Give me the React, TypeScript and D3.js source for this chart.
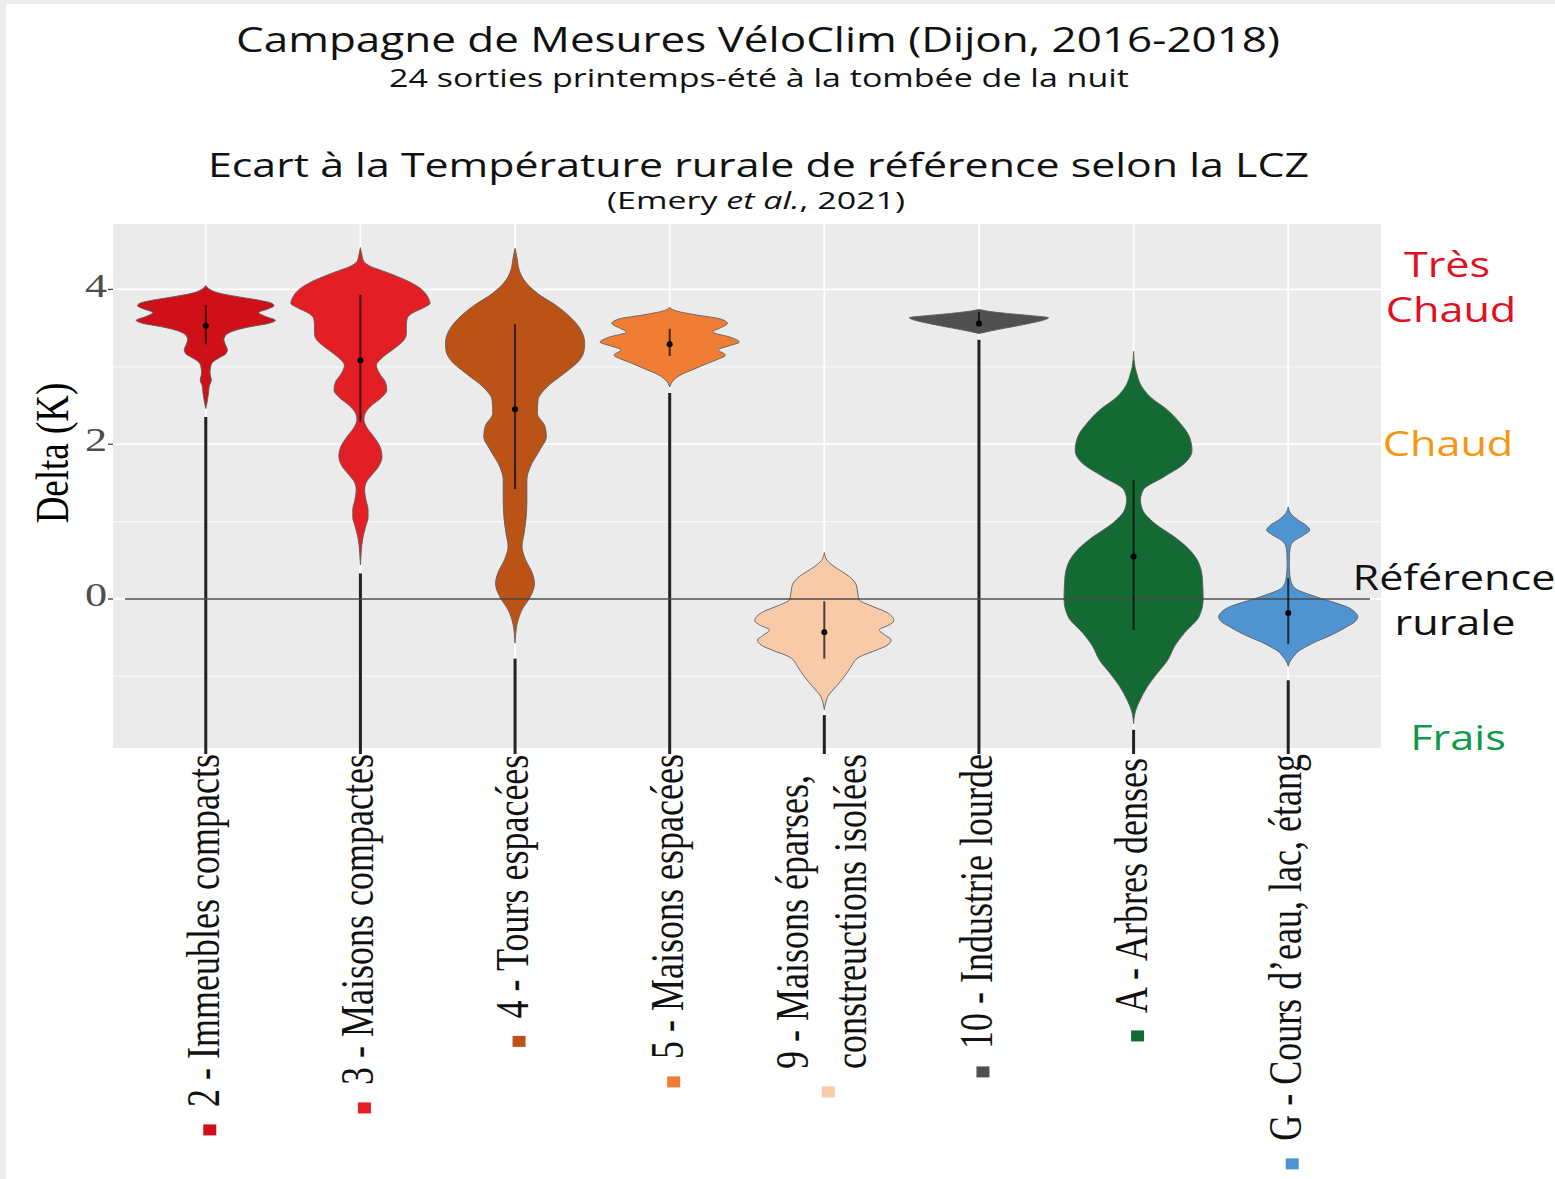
import React, { useMemo } from "react";
import * as d3 from "d3";

// Local Climate Zones (LCZ) shown on the x axis
const categories = [
  "2 - Immeubles compacts",
  "3 - Maisons compactes",
  "4 - Tours espacées",
  "5 - Maisons espacées",
  "9 - Maisons éparses,\nconstreuctions isolées",
  "10 - Industrie lourde",
  "A - Arbres denses",
  "G - Cours d’eau, lac, étang",
];

const fillColors = ["#CF1018", "#E31F25", "#BB5216", "#F07D34", "#F9CAA7", "#505050", "#136A33", "#4F94D0"];

// Temperature gap to the rural reference (K): mean and ± 1 sd
const means = [3.53, 3.08, 2.45, 3.29, -0.43, 3.56, 0.55, -0.18];
const sdLow = [3.29, 2.29, 1.42, 3.14, -0.77, 3.53, -0.4, -0.58];
const sdHigh = [3.8, 3.93, 3.55, 3.49, -0.03, 3.71, 1.54, 0.27];
// lower whisker stems, from this value down to the axis
const stemTop = [2.35, 0.33, -0.77, 2.66, -1.5, 3.35, -1.69, -1.05];

// Density profiles: [delta (K), relative half-width]
const densityLCZ2: [number, number][] = [
  [4.05, 0], [4.0, 0.06], [3.95, 0.2], [3.9, 0.5], [3.86, 0.77], [3.82, 0.95], [3.79, 0.98], [3.75, 0.9],
  [3.7, 0.76], [3.65, 0.86], [3.6, 1.0], [3.56, 0.9], [3.52, 0.65], [3.47, 0.42], [3.42, 0.3], [3.35, 0.26],
  [3.29, 0.28], [3.22, 0.31], [3.17, 0.29], [3.12, 0.2], [3.06, 0.1], [3.0, 0.07], [2.92, 0.06], [2.83, 0.08],
  [2.75, 0.05], [2.66, 0.04], [2.55, 0.02], [2.46, 0],
];
const densityLCZ3: [number, number][] = [
  [4.54, 0], [4.45, 0.02], [4.36, 0.05], [4.3, 0.14], [4.22, 0.38], [4.1, 0.7], [4.0, 0.88], [3.9, 0.97],
  [3.82, 1.0], [3.76, 0.9], [3.7, 0.76], [3.62, 0.67], [3.52, 0.66], [3.43, 0.66], [3.35, 0.63], [3.26, 0.52],
  [3.13, 0.33], [3.02, 0.23], [2.92, 0.27], [2.8, 0.36], [2.7, 0.38], [2.6, 0.3], [2.5, 0.16], [2.4, 0.07],
  [2.32, 0.05], [2.22, 0.09], [2.1, 0.19], [1.97, 0.28], [1.84, 0.31], [1.71, 0.26], [1.6, 0.16], [1.5, 0.08],
  [1.41, 0.06], [1.28, 0.08], [1.15, 0.11], [1.05, 0.11], [0.95, 0.08], [0.85, 0.05], [0.7, 0.02], [0.58, 0.01],
  [0.44, 0],
];
const densityLCZ4: [number, number][] = [
  [4.53, 0], [4.4, 0.03], [4.28, 0.05], [4.2, 0.08], [4.12, 0.13], [3.95, 0.32], [3.78, 0.61], [3.6, 0.84],
  [3.43, 0.97], [3.3, 1.0], [3.2, 0.99], [3.09, 0.93], [2.91, 0.7], [2.74, 0.46], [2.57, 0.33], [2.4, 0.32],
  [2.23, 0.43], [2.1, 0.45], [1.93, 0.36], [1.71, 0.22], [1.54, 0.17], [1.28, 0.17], [1.06, 0.16], [0.85, 0.13],
  [0.68, 0.1], [0.51, 0.15], [0.33, 0.25], [0.2, 0.28], [0.03, 0.22], [-0.14, 0.1], [-0.32, 0.03], [-0.45, 0.01],
  [-0.57, 0],
];
const densityLCZ5: [number, number][] = [
  [3.77, 0], [3.72, 0.1], [3.67, 0.38], [3.62, 0.72], [3.56, 0.83], [3.5, 0.72], [3.45, 0.62], [3.38, 0.88],
  [3.32, 1.0], [3.27, 0.85], [3.22, 0.7], [3.15, 0.8], [3.1, 0.7], [3.04, 0.53], [2.97, 0.35], [2.91, 0.19],
  [2.83, 0.06], [2.74, 0],
];
const densityLCZ9: [number, number][] = [
  [0.6, 0], [0.5, 0.04], [0.42, 0.14], [0.35, 0.26], [0.29, 0.36], [0.18, 0.46], [0.08, 0.48], [-0.01, 0.5],
  [-0.08, 0.65], [-0.17, 0.89], [-0.28, 1.0], [-0.34, 0.92], [-0.4, 0.79], [-0.47, 0.88], [-0.53, 0.96],
  [-0.6, 0.9], [-0.66, 0.75], [-0.75, 0.5], [-0.88, 0.38], [-1.0, 0.29], [-1.13, 0.17], [-1.26, 0.05],
  [-1.34, 0.02], [-1.43, 0],
];
const densityLCZ10: [number, number][] = [
  [3.74, 0], [3.71, 0.2], [3.69, 0.4], [3.66, 0.76], [3.635, 1.0], [3.61, 0.95], [3.56, 0.72], [3.5, 0.38],
  [3.46, 0.15], [3.43, 0],
];
const densityLCZA: [number, number][] = [
  [3.2, 0], [3.0, 0.02], [2.9, 0.05], [2.79, 0.09], [2.61, 0.24], [2.44, 0.49], [2.27, 0.67], [2.1, 0.8],
  [1.92, 0.84], [1.75, 0.73], [1.58, 0.44], [1.41, 0.14], [1.28, 0.1], [1.15, 0.13], [0.98, 0.3], [0.8, 0.59],
  [0.63, 0.81], [0.46, 0.94], [0.25, 0.99], [0.0, 1.0], [-0.23, 0.94], [-0.44, 0.73], [-0.61, 0.59],
  [-0.79, 0.49], [-0.96, 0.34], [-1.13, 0.2], [-1.31, 0.09], [-1.44, 0.03], [-1.61, 0],
];
const densityLCZG: [number, number][] = [
  [1.19, 0], [1.1, 0.04], [1.02, 0.14], [0.95, 0.26], [0.89, 0.31], [0.83, 0.23], [0.76, 0.1], [0.7, 0.04],
  [0.6, 0.02], [0.45, 0.015], [0.3, 0.025], [0.2, 0.05], [0.12, 0.13], [0.06, 0.3], [0.01, 0.46], [-0.05, 0.68],
  [-0.1, 0.84], [-0.17, 0.96], [-0.23, 1.0], [-0.3, 0.95], [-0.36, 0.84], [-0.43, 0.7], [-0.49, 0.56],
  [-0.55, 0.4], [-0.61, 0.27], [-0.68, 0.14], [-0.74, 0.08], [-0.8, 0.03], [-0.87, 0],
];
const densities = [
  densityLCZ2, densityLCZ3, densityLCZ4, densityLCZ5, densityLCZ9, densityLCZ10, densityLCZA, densityLCZG,
];

const yTicks = [0, 2, 4];
const yMinorTicks = [-1, 1, 3];

// Thermal classes on the right-hand side
const classLabels = [
  { lines: ["Très", "Chaud"], color: "#E2101E" },
  { lines: ["Chaud"], color: "#F5980F" },
  { lines: ["Référence", "rurale"], color: "#111111" },
  { lines: ["Frais"], color: "#0E9A47" },
];

const SERIF = "'Liberation Serif', 'Times New Roman', serif";
const SANS = "'Open Sans', 'Noto Sans', sans-serif";

export default function App() {
  const width = 1555;
  const height = 1179;
  const panel = { left: 113, right: 1381, top: 224, bottom: 748 };

  const y = d3.scaleLinear().domain([-1.925, 4.845]).range([panel.bottom, panel.top]);
  const x = d3.scalePoint<string>().domain(categories).range([panel.left, panel.right]).padding(0.6);
  const maxHalf = x.step() * 0.45;
  const sx = 1.3; // horizontal stretch of the axis lettering

  const measure = useMemo(() => {
    const ctx = document.createElement("canvas").getContext("2d");
    return (s: string) => {
      if (!ctx) return s.length * 16;
      ctx.font = "36px 'Liberation Serif'";
      return ctx.measureText(s).width;
    };
  }, []);

  const violinPath = (profile: [number, number][], cx: number) =>
    d3
      .area<[number, number]>()
      .y((d) => y(d[0]))
      .x0((d) => cx - d[1] * maxHalf)
      .x1((d) => cx + d[1] * maxHalf)
      .curve(d3.curveMonotoneY)(profile) || "";

  const classY = [[277, 322], [456], [590, 635], [750]];
  const classX = [[1447, 1451], [1448], [1454, 1455], [1458]];

  return (
    <svg width={width} height={height} style={{ position: "absolute", left: 0, top: 0 }}>
      <rect x={0} y={0} width={width} height={height} fill="#EDEDED" />
      <rect x={6} y={4} width={width - 6} height={height - 4} fill="#FFFFFF" />

      {/* titles */}
      <text x={758} y={52} textAnchor="middle" fontFamily={SANS} fontSize={34} textLength={1044}
        lengthAdjust="spacingAndGlyphs" fill="#111">
        Campagne de Mesures VéloClim (Dijon, 2016-2018)
      </text>
      <text x={759} y={87} textAnchor="middle" fontFamily={SANS} fontSize={25} textLength={740}
        lengthAdjust="spacingAndGlyphs" fill="#111">
        24 sorties printemps-été à la tombée de la nuit
      </text>
      <text x={758.5} y={177} textAnchor="middle" fontFamily={SANS} fontSize={32} textLength={1101}
        lengthAdjust="spacingAndGlyphs" fill="#111">
        Ecart à la Température rurale de référence selon la LCZ
      </text>
      <text x={756} y={209} textAnchor="middle" fontFamily={SANS} fontSize={24} textLength={298}
        lengthAdjust="spacingAndGlyphs" fill="#111">
        (Emery <tspan fontStyle="italic">et al.</tspan>, 2021)
      </text>

      {/* panel */}
      <rect x={panel.left} y={panel.top} width={panel.right - panel.left} height={panel.bottom - panel.top}
        fill="#EBEBEB" />
      {yMinorTicks.map((t) => (
        <line key={`m${t}`} x1={panel.left} x2={panel.right} y1={y(t)} y2={y(t)} stroke="#F7F7F7" strokeWidth={1.2} />
      ))}
      {yTicks.map((t) => (
        <line key={`M${t}`} x1={panel.left} x2={panel.right} y1={y(t)} y2={y(t)} stroke="#FFFFFF" strokeWidth={1.8} />
      ))}
      {categories.map((c) => (
        <line key={`v${c}`} x1={x(c)} x2={x(c)} y1={panel.top} y2={panel.bottom} stroke="#FFFFFF" strokeWidth={1.8} />
      ))}

      {/* stems below each violin */}
      {categories.map((c, i) => (
        <line key={`s${c}`} x1={x(c)} x2={x(c)} y1={y(stemTop[i])} y2={panel.bottom + 6} stroke="#222"
          strokeWidth={3} />
      ))}

      {/* violins */}
      {categories.map((c, i) => (
        <path key={`p${c}`} d={violinPath(densities[i], x(c) as number)} fill={fillColors[i]} stroke="#5E5E5E"
          strokeWidth={0.9} />
      ))}

      {/* rural reference line */}
      <line x1={panel.left + 12} x2={panel.right - 11} y1={y(0)} y2={y(0)} stroke="#4A4A4A" strokeWidth={1.6} />

      {/* mean ± sd */}
      {categories.map((c, i) => (
        <g key={`ms${c}`}>
          <line x1={x(c)} x2={x(c)} y1={y(sdLow[i])} y2={y(sdHigh[i])} stroke="#000" strokeOpacity={0.7}
            strokeWidth={2} />
          <circle cx={x(c)} cy={y(means[i])} r={3} fill="#000" />
        </g>
      ))}

      {/* y axis */}
      {yTicks.map((t) => (
        <g key={`yt${t}`}>
          <line x1={panel.left - 5} x2={panel.left} y1={y(t)} y2={y(t)} stroke="#333" strokeWidth={1.2} />
          <text transform={`translate(${panel.left - 6},${y(t) - 4}) scale(${sx},1)`} textAnchor="end"
            dominantBaseline="central" fontFamily={SERIF} fontSize={34} fill="#4D4D4D">
            {t}
          </text>
        </g>
      ))}
      <text transform={`translate(52,453) scale(1.28,1) rotate(-90)`} textAnchor="middle" dominantBaseline="central"
        fontFamily={SERIF} fontSize={37} fill="#000">
        Delta (K)
      </text>

      {/* x axis labels with colour keys */}
      {categories.map((c, i) => {
        const cx = x(c) as number;
        const lines = c.split("\n");
        const len = Math.max(...lines.map(measure));
        const startY = panel.bottom + 6 + len;
        const base = cx + 13;
        return (
          <g key={`xl${c}`}>
            {lines.map((ln, j) => (
              <text key={j}
                transform={`translate(${base + (j - (lines.length - 1) / 2) * 58},${startY}) scale(${sx},1) rotate(-90)`}
                textAnchor="start" fontFamily={SERIF} fontSize={36} fill="#111">
                {ln}
              </text>
            ))}
            <rect x={cx + 4 - 6.5} y={startY + 23 - 5.5} width={13} height={11} fill={fillColors[i]} />
          </g>
        );
      })}

      {/* thermal classes */}
      {classLabels.map((cl, i) =>
        cl.lines.map((ln, j) => (
          <text key={`c${i}${j}`} transform={`translate(${classX[i][j]},${classY[i][j]}) scale(1.27,1)`}
            textAnchor="middle" fontFamily={SANS} fontSize={34} fill={cl.color}>
            {ln}
          </text>
        ))
      )}
    </svg>
  );
}
